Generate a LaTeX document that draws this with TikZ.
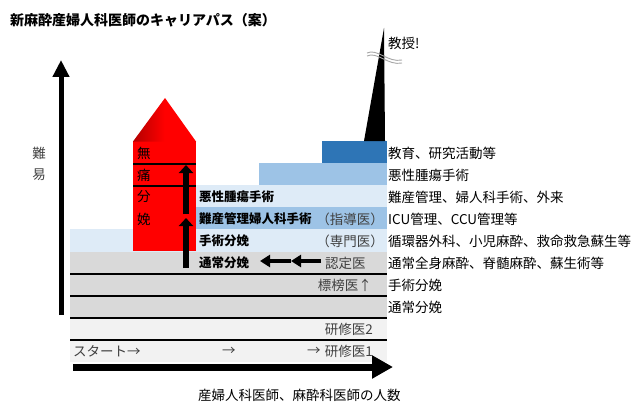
\documentclass[tikz,border=0pt]{standalone}
\usepackage{fontspec}
\setmainfont{Noto Sans CJK JP}
\usetikzlibrary{arrows.meta}
\definecolor{lgray}{HTML}{F2F2F2}
\definecolor{mgray}{HTML}{D9D9D9}
\definecolor{lblue}{HTML}{DEEBF7}
\definecolor{mblue}{HTML}{9DC3E6}
\definecolor{dblue}{HTML}{2E75B6}
\definecolor{txtgray}{HTML}{404040}
\definecolor{wavegray}{HTML}{A6A6A6}
\tikzset{
  lbl/.style={inner sep=0pt, anchor=west, font=\fontsize{13.5}{16}\selectfont},
  hlbl/.style={inner sep=0pt, anchor=west, font=\fontsize{13.5}{16}\selectfont},
  inb/.style={inner sep=0pt, anchor=west, font=\fontsize{12.5}{15}\selectfont\bfseries},
  grl/.style={inner sep=0pt, anchor=east, text=txtgray, font=\fontsize{13.5}{16}\selectfont},
  grw/.style={inner sep=0pt, anchor=west, text=txtgray, font=\fontsize{13.5}{16}\selectfont},
  sepline/.style={line width=1.1pt},
  axisv/.style={line width=5pt, -{Triangle[width=16pt,length=17pt]}},
  axish/.style={line width=7pt, -{Triangle[width=22pt,length=21pt]}},
  uparr/.style={line width=6pt, -{Triangle[width=14pt,length=8pt]}},
  leftarr/.style={line width=4.5pt, -{Triangle[width=12pt,length=10pt]}},
  wave/.style={wavegray, line width=0.9pt},
}
\begin{document}
\begin{tikzpicture}[x=1pt,y=-1pt]
\useasboundingbox (0,0) rectangle (636,409);
% bands
\fill[lgray] (70,340) rectangle (387,362);
\fill[lgray] (70,318) rectangle (387,340);
\fill[mgray] (70,252) rectangle (387,318);
\fill[lblue] (70,229) rectangle (387,252);
\fill[mblue] (196,207) rectangle (387,229);
\fill[lblue] (196,185) rectangle (387,207);
\fill[mblue] (259,163) rectangle (387,185);
\fill[dblue] (322,141) rectangle (387,163);
% separators
\foreach \yy in {274,296,318,340} \draw[sepline] (70,\yy) -- (387,\yy);
% professor spike
\fill[black] (364,141) -- (385,141) -- (384,28) -- cycle;
\draw[wave] (367,53) .. controls (377,48) and (388,63) .. (402,60);
\draw[wave] (367,56) .. controls (377,51) and (388,66) .. (402,63);
% house
\fill[red] (133,141) rectangle (196,251);
\shade[left color=red!70!black, right color=red, middle color=red] (133,141.5) -- (165,98) -- (196,141.5) -- cycle;
\draw[sepline] (133,164) -- (196,164);
\draw[sepline] (133,186) -- (196,186);
% axes
\coordinate (va0) at (61,315); \coordinate (va1) at (61,60);
\draw[axisv] (va0) -- (va1);
\coordinate (ha0) at (73,367); \coordinate (ha1) at (393,367);
\draw[axish] (ha0) -- (ha1);
% arrows in house
\coordinate (u0) at (186,268); \coordinate (u1) at (186,218);
\coordinate (u2) at (186,214); \coordinate (u3) at (186,165);
\draw[uparr] (u0) -- (u1);
\draw[uparr] (u2) -- (u3);
\coordinate (l0) at (321,261); \coordinate (l1) at (291,261); \coordinate (l2) at (260,261);
\draw[leftarr] (l1) -- (l2);
\draw[leftarr] (l0) -- (l1);
% texts
\node[inner sep=0pt, anchor=west, font=\fontsize{14}{16}\selectfont\bfseries] (title) at (10,20) {新麻酔産婦人科医師のキャリアパス（案）};
\node[inner sep=0pt, text=txtgray, font=\fontsize{13.5}{16}\selectfont] (nan) at (39,153) {難};
\node[inner sep=0pt, text=txtgray, font=\fontsize{13.5}{16}\selectfont] (i) at (39,175) {易};
\node[lbl] (prof) at (388,43) {教授!};
\node[lbl] (r1) at (388,153) {教育、研究活動等};
\node[lbl] (r2) at (388,175) {悪性腫瘍手術};
\node[lbl] (r3) at (388,197) {難産管理、婦人科手術、外来};
\node[lbl] (r4) at (388,219) {ICU管理、CCU管理等};
\node[lbl] (r5) at (388,241) {循環器外科、小児麻酔、救命救急蘇生等};
\node[lbl] (r6) at (388,263) {通常全身麻酔、脊髄麻酔、蘇生術等};
\node[lbl] (r7) at (388,285) {手術分娩};
\node[lbl] (r8) at (388,307) {通常分娩};
\node[hlbl] (h1) at (137,153) {無};
\node[hlbl] (h2) at (137,175) {痛};
\node[hlbl] (h3) at (137,197) {分};
\node[hlbl] (h4) at (137,219) {娩};
\node[inb] (b1) at (199,197) {悪性腫瘍手術};
\node[inb] (b2) at (199,219) {難産管理婦人科手術};
\node[inb] (b3) at (199,241) {手術分娩};
\node[inb] (b4) at (199,263) {通常分娩};
\node[grl] (shido) at (384,219) {（指導医）};
\node[grl] (senmon) at (384,241) {（専門医）};
\node[grw] (nintei) at (325,263) {認定医};
\node[grl] (hyobo) at (372,285) {標榜医↑};
\node[grl] (ken2) at (373,329) {研修医2};
\node[grl] (ken1) at (373,351) {研修医1};
\node[grw] (ar2) at (307,351) {→};
\node[grw] (ar1) at (222,351) {→};
\node[grw] (start) at (73,351) {スタート→};
\node[lbl] (xlab) at (198,395) {産婦人科医師、麻酔科医師の人数};
\end{tikzpicture}
\end{document}
